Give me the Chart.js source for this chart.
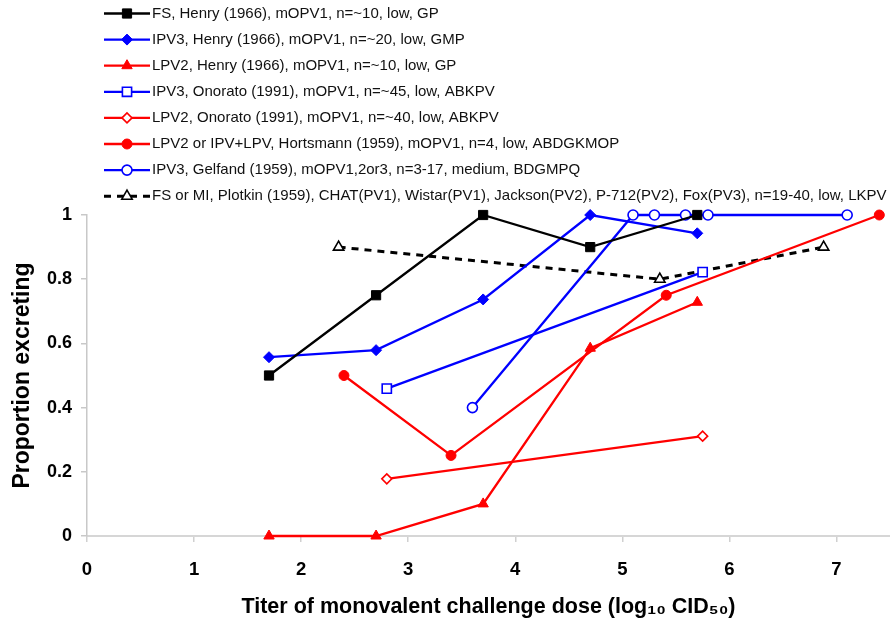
<!DOCTYPE html>
<html>
<head>
<meta charset="utf-8">
<script src="https://cdn.jsdelivr.net/npm/chart.js@4.4.1/dist/chart.umd.min.js"></script>
<style>
html,body{margin:0;padding:0;background:#fff;}
#wrap{width:890px;height:624px;position:relative;}
</style>
</head>
<body>
<div id="wrap"><canvas id="c" width="890" height="624"></canvas></div>
<script>
// ---- data ----
const seriesLabels = [
  "FS, Henry (1966), mOPV1, n=~10, low, GP",
  "IPV3, Henry (1966), mOPV1, n=~20, low, GMP",
  "LPV2, Henry (1966), mOPV1, n=~10, low, GP",
  "IPV3, Onorato (1991), mOPV1, n=~45, low, ABKPV",
  "LPV2, Onorato (1991), mOPV1, n=~40, low, ABKPV",
  "LPV2 or IPV+LPV, Hortsmann (1959), mOPV1, n=4, low, ABDGKMOP",
  "IPV3, Gelfand (1959), mOPV1,2or3, n=3-17, medium, BDGMPQ",
  "FS or MI, Plotkin (1959), CHAT(PV1), Wistar(PV1), Jackson(PV2), P-712(PV2), Fox(PV3), n=19-40, low, LKPV"
];
const henryDose      = [1.7, 2.7, 3.7, 4.7, 5.7];
const fsHenry        = [0.5, 0.75, 1.0, 0.9, 1.0];
const ipv3Henry      = [0.557, 0.579, 0.737, 1.0, 0.943];
const lpv2Henry      = [0, 0, 0.1, 0.585, 0.728];
const onoratoDose    = [2.8, 5.75];
const ipv3Onorato    = [0.459, 0.822];
const lpv2Onorato    = [0.178, 0.311];
const hortsmannDose  = [2.4, 3.4, 5.41, 7.4];
const hortsmann      = [0.5, 0.251, 0.75, 1.0];
const gelfandDose    = [3.6, 5.1, 5.3, 5.59, 5.8, 7.1];
const gelfand        = [0.4, 1.0, 1.0, 1.0, 1.0, 1.0];
const plotkinDose    = [2.35, 5.35, 6.88];
const plotkin        = [0.9, 0.8, 0.9];

const xTickValues = [0, 1, 2, 3, 4, 5, 6, 7];
const yTickValues = [0, 0.2, 0.4, 0.6, 0.8, 1];
const yTickLabels = ["0", "0.2", "0.4", "0.6", "0.8", "1"];
const xTitle = "Titer of monovalent challenge dose (log\u2081\u2080 CID\u2085\u2080)";
const yTitle = "Proportion excreting";

// ---- build ----
const pts = (xs, ys) => xs.map((x, i) => ({x: x, y: ys[i]}));
const BLACK = '#000000', BLUE = '#0000ff', RED = '#ff0000';
function ds(label, data, color, style, radius, open, dash, lw) {
  return {
    label: label,
    data: data,
    borderColor: color,
    backgroundColor: color,
    borderWidth: lw || 2.3,
    borderDash: dash || [],
    pointStyle: style,
    pointRadius: radius,
    pointBackgroundColor: open ? '#ffffff' : color,
    pointBorderColor: color,
    pointBorderWidth: open ? 1.6 : 1,
    showLine: true,
    fill: false,
    tension: 0,
    clip: false
  };
}
const datasets = [
  ds(seriesLabels[0], pts(henryDose, fsHenry), BLACK, 'rect', 6.5, false),
  ds(seriesLabels[1], pts(henryDose, ipv3Henry), BLUE, 'rectRot', 5.5, false),
  ds(seriesLabels[2], pts(henryDose, lpv2Henry), RED, 'triangle', 6, false),
  ds(seriesLabels[3], pts(onoratoDose, ipv3Onorato), BLUE, 'rect', 6.5, true),
  ds(seriesLabels[4], pts(onoratoDose, lpv2Onorato), RED, 'rectRot', 5, true),
  ds(seriesLabels[5], pts(hortsmannDose, hortsmann), RED, 'circle', 5, false),
  ds(seriesLabels[6], pts(gelfandDose, gelfand), BLUE, 'circle', 5, true),
  ds(seriesLabels[7], pts(plotkinDose, plotkin), BLACK, 'triangle', 6, true, [7, 6], 3)
];

const FONT = "'Liberation Sans', Arial, Helvetica, sans-serif";

const rowLegend = {
  id: 'rowLegend',
  afterDraw(chart, args, o) {
    const ctx = chart.ctx;
    ctx.save();
    chart.data.datasets.forEach((d, i) => {
      const y = o.top + i * o.spacing;
      ctx.beginPath();
      ctx.setLineDash(d.borderDash || []);
      ctx.lineWidth = d.borderWidth;
      ctx.strokeStyle = d.borderColor;
      ctx.moveTo(o.x0, y);
      ctx.lineTo(o.x1, y);
      ctx.stroke();
      ctx.setLineDash([]);
      ctx.fillStyle = d.pointBackgroundColor;
      ctx.strokeStyle = d.pointBorderColor;
      ctx.lineWidth = d.pointBorderWidth;
      Chart.helpers.drawPoint(ctx, {
        pointStyle: d.pointStyle, radius: d.pointRadius, rotation: 0,
        borderWidth: d.pointBorderWidth
      }, (o.x0 + o.x1) / 2, y);
      ctx.fillStyle = '#111';
      ctx.font = o.font;
      ctx.textAlign = 'left';
      ctx.textBaseline = 'middle';
      ctx.fillText(d.label, o.textX, y);
    });
    ctx.restore();
  }
};

new Chart(document.getElementById('c'), {
  type: 'scatter',
  data: { datasets: datasets },
  plugins: [rowLegend],
  options: {
    responsive: false,
    animation: false,
    events: [],
    layout: { autoPadding: false, padding: { top: 215, right: 0, left: 0, bottom: 0 } },
    plugins: {
      legend: { display: false },
      tooltip: { enabled: false },
      rowLegend: { top: 13.5, spacing: 26.1, x0: 104, x1: 150, textX: 152, font: "15px " + FONT }
    },
    scales: {
      x: {
        type: 'linear',
        min: 0, max: 7.5,
        afterFit(s) { s.height = 88; s.paddingRight = 0; s.paddingLeft = 0; },
        afterBuildTicks(s) { s.ticks = xTickValues.map(v => ({value: v})); },
        border: { display: true, color: '#d6d6d6', width: 2 },
        grid: { display: true, drawOnChartArea: false, drawTicks: true, tickLength: 6, color: '#d0d0d0', lineWidth: 1.5 },
        ticks: { color: '#000', padding: 17, font: { family: FONT, size: 18.5, weight: 'bold' }, maxRotation: 0 },
        title: { display: true, text: xTitle, color: '#000', padding: { top: 0, bottom: 4 }, font: { family: FONT, size: 21.5, weight: 'bold' } }
      },
      y: {
        type: 'linear',
        min: 0, max: 1,
        afterFit(s) { s.width = 87; },
        afterBuildTicks(s) { s.ticks = yTickValues.map(v => ({value: v})); },
        border: { display: true, color: '#c8c8c8', width: 1.5 },
        grid: { display: true, drawOnChartArea: false, drawTicks: true, tickLength: 6, color: '#c8c8c8', lineWidth: 1.5 },
        ticks: {
          color: '#000', padding: 9, font: { family: FONT, size: 18, weight: 'bold' },
          callback: (v) => { const k = yTickValues.findIndex(t => Math.abs(t - v) < 1e-9); return k >= 0 ? yTickLabels[k] : ''; }
        },
        title: { display: true, text: yTitle, color: '#000', padding: { top: 9, bottom: 0 }, font: { family: FONT, size: 23, weight: 'bold' } }
      }
    }
  }
});
</script>
</body>
</html>
